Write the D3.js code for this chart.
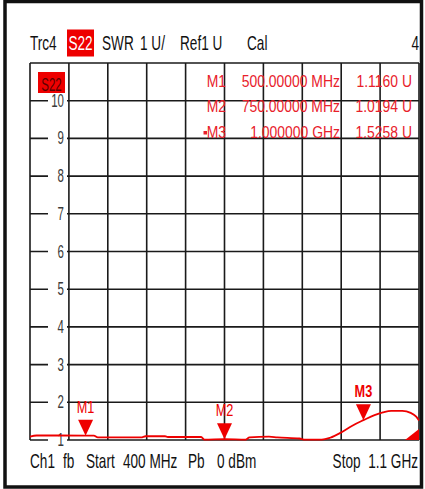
<!DOCTYPE html>
<html><head><meta charset="utf-8">
<script src="https://cdn.jsdelivr.net/npm/d3@7"></script>
<style>html,body{margin:0;padding:0;background:#fff;}svg{display:block;}</style>
</head><body>
<script>
// ---- data ----
const freqMHz = [400,412,500,515,522,600,608,643,648,708,714,750,788,795,830,845,885,895,925,940,960,980,1000,1020,1035,1050,1070,1085,1095,1100];
const swrValues = [1.09,1.12,1.116,1.115,1.07,1.07,1.10,1.10,1.08,1.08,1.01,1.0194,1.01,1.07,1.09,1.07,1.04,1.01,1.01,1.06,1.2,1.38,1.5258,1.66,1.73,1.77,1.77,1.72,1.62,1.52];
const yTickValues = [1,2,3,4,5,6,7,8,9,10];
const startMHz = 400, stopMHz = 1100;
const markerNames = ["M1","M2","M3"];
const markerFreq = [500,750,1000];
const markerVal = [1.116,1.0194,1.5258];
const markerFreqLabels = ["500.00000 MHz","750.00000 MHz","1.000000 GHz"];
const markerValLabels = ["1.1160 U","1.0194 U","1.5258 U"];
const headerTokens = [["Trc4",30],["SWR",102],["1 U/",140],["Ref1 U",180],["Cal",247]];
const footerTokens = [["Ch1",30],["fb",63],["Start",86],["400 MHz",123],["Pb",188],["0 dBm",217]];

// ---- layout ----
const W = 425, H = 489;
const L = 30, R = 419, T = 63, B = 440;
const RED = "#ee0000", TXTRED = "#e8202a";
const FONT = "'Liberation Sans', Arial, sans-serif";

const svg = d3.select("body").append("svg").attr("width", W).attr("height", H);
svg.append("rect").attr("width", W).attr("height", H).attr("fill", "#fff");

const x = d3.scaleLinear().domain([startMHz, stopMHz]).range([L, R]);
const y = d3.scaleLinear().domain([1, 11]).range([B, T]);

function txt(g, s, px, py, o) {
  o = o || {};
  return g.append("text")
    .attr("transform", `translate(${px},${py}) scale(${o.sx||0.82},${o.sy||1})`)
    .attr("font-family", FONT).attr("font-size", o.size||17)
    .attr("fill", o.fill||"#111").attr("text-anchor", o.anchor||"start")
    .attr("font-weight", o.weight||"normal")
    .text(s);
}

// outer frame
svg.append("rect").attr("x", 5).attr("y", 1.5).attr("width", 416.5).attr("height", 485.5)
  .attr("fill", "none").attr("stroke", "#111").attr("stroke-width", 3.5);

// grid
const grid = svg.append("g");
const xGridVals = d3.range(0, 11).map(i => startMHz + i * (stopMHz - startMHz) / 10);
grid.selectAll("line.v").data(xGridVals).join("line")
  .attr("x1", d => x(d)).attr("x2", d => x(d)).attr("y1", T).attr("y2", B)
  .attr("stroke", "#1a1a1a").attr("stroke-width", 1.6);
grid.selectAll("line.h").data(d3.range(1, 12)).join("line")
  .attr("x1", L).attr("x2", R).attr("y1", d => y(d)).attr("y2", d => y(d))
  .attr("stroke", "#1a1a1a").attr("stroke-width", 1.6);

// y labels with white knock-out
const yl = svg.append("g");
yTickValues.forEach(v => {
  yl.append("rect").attr("x", 48).attr("y", y(v) - 6).attr("width", 19).attr("height", 12).attr("fill", "#fff");
  txt(yl, String(v), 64, y(v) + 6, {anchor: "end", fill: "#3a3a3a", size: 16, sx: 0.72, sy: 1.1});
});

// trace
const line = d3.line().x((d, i) => x(freqMHz[i])).y(d => y(d)).curve(d3.curveMonotoneX);
svg.append("path").datum(swrValues).attr("d", line)
  .attr("fill", "none").attr("stroke", RED).attr("stroke-width", 1.8);

// out-of-range wedge at bottom right
svg.append("path").attr("d", `M${R-14},${B} L${R},${B-11} L${R},${B} Z`).attr("fill", RED);

// markers
const mk = svg.append("g");
markerNames.forEach((m, i) => {
  const mx = x(markerFreq[i]), my = y(markerVal[i]);
  mk.append("path").attr("d", `M${mx-7.5},${my-16} L${mx+7.5},${my-16} L${mx},${my} Z`).attr("fill", RED);
  txt(mk, m, mx, my - 23, {anchor: "middle", fill: RED, size: 15, sx: 0.85, sy: 1.05, weight: i === 2 ? "bold" : "normal"});
});

// marker table
const tb = svg.append("g");
const rowY = [87, 112, 138];
markerNames.forEach((m, i) => {
  txt(tb, m, 226, rowY[i], {anchor: "end", fill: TXTRED, size: 17});
  txt(tb, markerFreqLabels[i], 340, rowY[i], {anchor: "end", fill: TXTRED, size: 17});
  txt(tb, markerValLabels[i], 412, rowY[i], {anchor: "end", fill: TXTRED, size: 17});
});
tb.append("rect").attr("x", 203.5).attr("y", rowY[2] - 7).attr("width", 3.5).attr("height", 3.5).attr("fill", TXTRED);

// grid-corner S22 box
svg.append("rect").attr("x", 38).attr("y", 72).attr("width", 27).attr("height", 21).attr("fill", RED);
txt(svg, "S22", 51.5, 91, {anchor: "middle", fill: "#5a0000", size: 16, sx: 0.72, sy: 1.15});

// header
const hd = svg.append("g");
headerTokens.forEach(([s, px]) => txt(hd, s, px, 50, {size: 17, sx: 0.8, sy: 1.2}));
txt(hd, "4", 419, 50, {anchor: "end", size: 17, sx: 0.8, sy: 1.2});
hd.append("rect").attr("x", 67).attr("y", 29.5).attr("width", 27).attr("height", 27).attr("fill", RED);
txt(hd, "S22", 80.5, 50, {anchor: "middle", fill: "#fff", size: 17, sx: 0.8, sy: 1.2});

// footer
const ft = svg.append("g");
footerTokens.forEach(([s, px]) => txt(ft, s, px, 468, {size: 17, sx: 0.8, sy: 1.2}));
txt(ft, "Stop  1.1 GHz", 418, 468, {anchor: "end", size: 17, sx: 0.8, sy: 1.2}).attr("xml:space", "preserve").style("white-space", "pre");
</script>
</body></html>
